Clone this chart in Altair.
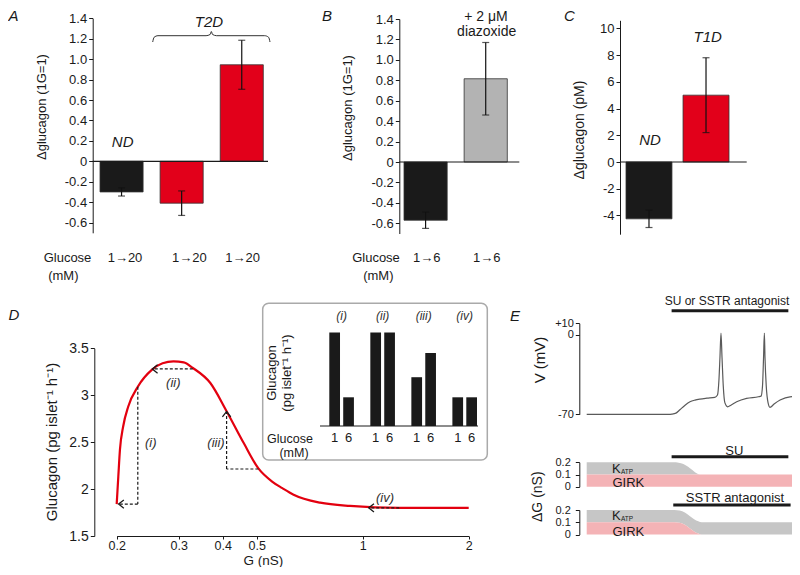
import altair as alt
import pandas as pd

W, H = 784, 559
M = 8


def px(v):
    return v - M


FONT = "Liberation Sans"
INK = "#1a1a1a"
RED = "#e2001a"
GREY_BAR = "#b3b3b3"
TRACE = "#5a5a5a"
KATP_C = "#c6c6c6"
GIRK_C = "#f4b3b6"

# ---------------- data ----------------
# Panel A
a_cats = ["ND", "T2D a", "T2D b"]
a_group = ["ND", "T2D", "T2D"]
a_vals = [-0.30, -0.41, 0.945]
a_errs = [0.04, 0.12, 0.24]
a_ticks = [-0.6, -0.4, -0.2, 0, 0.2, 0.4, 0.6, 0.8, 1.0, 1.2, 1.4]
a_glucose = ["1→20", "1→20", "1→20"]

# Panel B
b_cats = ["control", "diazoxide"]
b_group = ["ctrl", "diazoxide"]
b_vals = [-0.57, 0.815]
b_errs = [0.08, 0.355]
b_ticks = [-0.6, -0.4, -0.2, 0, 0.2, 0.4, 0.6, 0.8, 1.0, 1.2, 1.4]
b_glucose = ["1→6", "1→6"]

# Panel C
c_cats = ["ND", "T1D"]
c_group = ["ND", "T1D"]
c_vals = [-4.25, 5.0]
c_errs = [0.65, 2.8]
c_ticks = [-4, -2, 0, 2, 4, 6, 8, 10]

# Panel D: model curve (G in nS, glucagon pg/islet/h)
d_g = [0.2000, 0.2010, 0.2021, 0.2043, 0.2087, 0.2157, 0.2296, 0.2516, 0.2700,
       0.2899, 0.3100, 0.3292, 0.3690, 0.4104, 0.4591, 0.5053, 0.5527, 0.5909,
       0.636, 0.757, 0.92, 1.27, 1.60, 2.0]
d_glu = [1.84, 1.98, 2.13, 2.42, 2.67, 2.88, 3.09, 3.27, 3.34,
         3.36, 3.35, 3.29, 3.13, 2.83, 2.49, 2.22, 2.08, 2.01,
         1.94, 1.855, 1.82, 1.80, 1.80, 1.80]
d_xticks = [0.2, 0.3, 0.4, 0.5, 1, 2]
d_yticks = [1.5, 2, 2.5, 3, 3.5]
# dashed guides (x, y) -> (x2, y2)
seg_x = [0.2296, 0.2296, 0.329, 0.5053, 0.4104, 1.27]
seg_y = [3.09, 1.84, 3.28, 2.214, 2.214, 1.80]
seg_x2 = [0.2296, 0.2025, 0.2525, 0.4104, 0.4104, 1.04]
seg_y2 = [1.84, 1.84, 3.28, 2.214, 2.825, 1.80]
arrow_x = [0.2025, 0.2525, 0.4104, 1.04]
arrow_y = [1.84, 3.28, 2.825, 1.80]
arrow_dir = ["left", "left", "up", "left"]

# Panel D inset
ins_groups = ["(i)", "(ii)", "(iii)", "(iv)"]
ins_glc = ["1", "6"]
ins_at1 = [3.28, 3.28, 2.19, 1.70]
ins_at6 = [1.70, 3.28, 2.78, 1.70]
ins_ticks = [1, 2, 3]

# Panel E: membrane potential trace
e_t = [0, 39.5, 41.3, 43.2, 45.1, 47.6, 50.0, 52.4, 54.8, 58.2, 62.0, 63.3, 64.0,
       64.5, 65.0, 65.5, 66.1, 66.9, 68.2, 69.8, 72.6, 77.4, 83.1, 84.4, 85.1,
       85.6, 86.0, 86.3, 86.9, 87.8, 88.7, 90.7, 93.6, 98.4, 100]
e_v = [-70, -70, -69.8, -69, -66, -62, -59, -57.5, -56.6, -55.8, -55.1, -53, -40,
       -20, 1.4, -20, -45, -60, -63.4, -62, -59, -56, -54.6, -54, -45,
       -20, 1.4, -20, -45, -60, -63.9, -61, -57.5, -54.6, -54.5]
v_ticks = [-70, 0, 10]
# conductances (nS)
su_t = [0, 41.9, 44.5, 46.8, 48.5, 50.0, 51.3, 52.4, 53.6, 54.8, 100]
su_katp = [0.1, 0.1, 0.097, 0.086, 0.070, 0.051, 0.034, 0.018, 0.007, 0.0, 0.0]
su_girk = [0.1, 0.1, 0.1, 0.1, 0.1, 0.1, 0.1, 0.1, 0.1, 0.1, 0.1]
ss_t = [0, 42.5, 45.0, 47.5, 50.0, 52.0, 54.0, 55.7, 100]
ss_katp = [0.1, 0.1, 0.1, 0.1, 0.1, 0.1, 0.1, 0.1, 0.1]
ss_girk = [0.1, 0.1, 0.095, 0.080, 0.050, 0.025, 0.008, 0.0, 0.0]
g_ticks = [0, 0.1, 0.2]
treat_start = [41.1, 41.1, 41.9]
treat_end = [97.6, 97.6, 98.7]

# brace shape above T2D bars (normalised)
brace_x = [0, 0.012, 0.045, 0.455, 0.49, 0.5, 0.51, 0.545, 0.955, 0.988, 1]
brace_y = [0, 0.45, 0.6, 0.6, 0.72, 1.0, 0.72, 0.6, 0.6, 0.45, 0]

COLOR = alt.Scale(domain=["ND", "T2D", "T1D", "ctrl", "diazoxide"],
                  range=[INK, RED, RED, INK, GREY_BAR])

layers = []


def T(s, x, y, size=13, italic=False, angle=0, align="center", color=INK, baseline="middle"):
    return alt.Chart(pd.DataFrame({"s": [s]})).mark_text(
        font=FONT, fontSize=size, fontStyle="italic" if italic else "normal",
        angle=angle, align=align, baseline=baseline, color=color
    ).encode(x=alt.value(px(x)), y=alt.value(px(y)), text="s:N")


def left_axis(axis_x, values, expr, size=13, tick=4, pad=2):
    return alt.Axis(orient="left", offset=-px(axis_x), values=values, labelExpr=expr,
                    title=None, grid=False, tickSize=tick, labelPadding=pad,
                    labelFontSize=size, labelFont=FONT, labelColor=INK,
                    domainColor=INK, tickColor=INK, domainWidth=1, tickWidth=1,
                    labelOverlap=False, labelFlush=False)


DEC = "datum.value == 0 ? '0' : replace(format(datum.value, '.1f'), '\u2212', '-')"
INT = "replace(format(datum.value, 'd'), '\u2212', '-')"


def bar_panel(cats, groups, vals, errs, xr, pad, ydom, yr, axis_x, ticks, expr, zero_end):
    df = pd.DataFrame({"cat": cats, "grp": groups, "val": vals, "err": errs})
    df["lo"] = df["val"] - df["err"]
    df["hi"] = df["val"] + df["err"]
    df["zero"] = 0.0
    xs = alt.Scale(type="band", domain=cats, range=[px(xr[0]), px(xr[1])],
                   paddingInner=pad, paddingOuter=0)
    ys = alt.Scale(domain=ydom, range=[px(yr[0]), px(yr[1])], nice=False, zero=False)
    base = alt.Chart(df)
    X = alt.X("cat:N", scale=xs, axis=None)
    out = []
    out.append(base.mark_bar(stroke="#333333", strokeWidth=0.8).encode(
        x=X, y=alt.Y("val:Q", scale=ys, axis=left_axis(axis_x, ticks, expr)),
        y2="zero:Q", color=alt.Color("grp:N", scale=COLOR, legend=None)))
    out.append(base.mark_rule(color="#111111", strokeWidth=1.2).encode(
        x=X, y=alt.Y("lo:Q", scale=ys, axis=None), y2="hi:Q"))
    for c in ["lo", "hi"]:
        out.append(base.mark_tick(color="#111111", size=7, thickness=1.2).encode(
            x=X, y=alt.Y(c + ":Q", scale=ys, axis=None)))
    out.append(alt.Chart(df.head(1)).mark_rule(color=INK, strokeWidth=1.2).encode(
        y=alt.Y("zero:Q", scale=ys, axis=None),
        x=alt.value(px(axis_x)), x2=alt.value(px(zero_end))))
    return out


# ---------- Panel A ----------
layers += bar_panel(a_cats, a_group, a_vals, a_errs, (100, 263.3), 0.283,
                    [-0.7, 1.4], (232.8, 18.3), 92.7, a_ticks, DEC, 268)
brace = pd.DataFrame({"bx": brace_x, "by": brace_y, "o": list(range(len(brace_x)))})
layers.append(alt.Chart(brace).mark_line(color="#333333", strokeWidth=1, interpolate="monotone").encode(
    x=alt.X("bx:Q", scale=alt.Scale(domain=[0, 1], range=[px(152.7), px(270)]), axis=None),
    y=alt.Y("by:Q", scale=alt.Scale(domain=[0, 1], range=[px(42), px(31.5)]), axis=None),
    order="o:Q"))
layers += [
    T("A", 8.5, 16, 15, italic=True, align="left"),
    T("Δglucagon (1G=1)", 42, 107, 13, angle=270),
    T("ND", 122.7, 141.7, 15, italic=True),
    T("T2D", 209, 22, 15, italic=True),
    T("Glucose", 67.5, 258, 13),
    T("(mM)", 63.3, 276, 13),
    T(a_glucose[0], 125, 258, 13),
    T(a_glucose[1], 189.3, 258, 13),
    T(a_glucose[2], 242.7, 258, 13),
]

# ---------- Panel B ----------
layers += bar_panel(b_cats, b_group, b_vals, b_errs, (404, 507.3), 0.282,
                    [-0.7, 1.4], (233.5, 19), 399.3, b_ticks, DEC, 519.3)
layers += [
    T("B", 327, 16, 15, italic=True),
    T("Δglucagon (1G=1)", 348.3, 108, 13, angle=270),
    T("+ 2 μM", 486, 16.5, 14),
    T("diazoxide", 486.7, 32, 14),
    T("Glucose", 376, 258, 13),
    T("(mM)", 378.3, 276, 13),
    T(b_glucose[0], 426.7, 258, 13),
    T(b_glucose[1], 486.7, 258, 13),
]

# ---------- Panel C ----------
layers += bar_panel(c_cats, c_group, c_vals, c_errs, (626, 729), 0.194,
                    [-5.4, 10.6], (234.2, 20.3), 620, c_ticks, INT, 746.7)
layers += [
    T("C", 569.5, 16, 15, italic=True),
    T("Δglucagon (pM)", 580, 130, 14, angle=270),
    T("ND", 650, 140, 15, italic=True),
    T("T1D", 707.7, 37.3, 15, italic=True),
]

# ---------- Panel D ----------
dxs = alt.Scale(type="log", domain=[0.2, 2], range=[px(116.7), px(468.7)], nice=False)
dys = alt.Scale(domain=[1.5, 3.5], range=[px(536), px(348.3)], nice=False, zero=False)
curve = pd.DataFrame({"g": d_g, "glu": d_glu})
layers.append(alt.Chart(curve).mark_line(color="#e3000f", strokeWidth=2.2, interpolate="monotone").encode(
    x=alt.X("g:Q", scale=dxs, axis=alt.Axis(
        orient="bottom", offset=px(536) - H, values=d_xticks, format="~g", title=None,
        grid=False, tickSize=3, labelPadding=0, labelFontSize=12.5, labelFont=FONT,
        labelColor=INK, domainColor=INK, tickColor=INK, labelOverlap=False, labelFlush=False)),
    y=alt.Y("glu:Q", scale=dys, axis=left_axis(94.3, d_yticks, "format(datum.value, '~g')", size=14))))
segs = pd.DataFrame({"x": seg_x, "y": seg_y, "x2": seg_x2, "y2": seg_y2})
layers.append(alt.Chart(segs).mark_rule(color=INK, strokeWidth=1.2, strokeDash=[3, 2]).encode(
    x=alt.X("x:Q", scale=dxs, axis=None), x2="x2:Q",
    y=alt.Y("y:Q", scale=dys, axis=None), y2="y2:Q"))
arr = pd.DataFrame({"x": arrow_x, "y": arrow_y, "d": arrow_dir})
SHAPES = {"left": "M 1 -0.8 L 0 0 L 1 0.8", "up": "M -0.8 1 L 0 0 L 0.8 1"}
for d, path in SHAPES.items():
    layers.append(alt.Chart(arr).transform_filter(alt.datum.d == d).mark_point(
        shape=path, filled=False, stroke=INK, strokeWidth=1.3, size=110, opacity=1).encode(
        x=alt.X("x:Q", scale=dxs, axis=None), y=alt.Y("y:Q", scale=dys, axis=None)))
layers += [
    T("D", 8.5, 315, 15, italic=True, align="left"),
    T("Glucagon  (pg islet⁻¹ h⁻¹)", 51.7, 442, 15, angle=270),
    T("G (nS)", 263.3, 565, 13.5, baseline="alphabetic"),
    T("(i)", 150.7, 443.3, 13, italic=True, color="#333333"),
    T("(ii)", 173.3, 382.5, 13, italic=True, color="#333333"),
    T("(iii)", 216, 443.3, 13, italic=True, color="#333333"),
    T("(iv)", 385, 498.3, 13, italic=True, color="#333333"),
]

# inset frame
layers.append(alt.Chart(pd.DataFrame({"k": [0]})).mark_rect(
    fill="white", stroke="#aaaaaa", strokeWidth=1.5, cornerRadius=6).encode(
    x=alt.value(px(262.7)), x2=alt.value(px(487.3)),
    y=alt.value(px(303.3)), y2=alt.value(px(460))))
ins_rows = []
for i, g in enumerate(ins_groups):
    ins_rows.append({"grp": g, "glc": "1", "val": ins_at1[i], "base": 1.0})
    ins_rows.append({"grp": g, "glc": "6", "val": ins_at6[i], "base": 1.0})
ins = pd.DataFrame(ins_rows)
ixs = alt.Scale(type="band", domain=ins_groups, range=[px(329.3), px(477)],
                paddingInner=0.4, paddingOuter=0)
ios = alt.Scale(type="band", domain=ins_glc, paddingInner=0.23, paddingOuter=0)
iys = alt.Scale(domain=[1, 3.7], range=[px(426), px(315.3)], nice=False, zero=False)
layers.append(alt.Chart(ins).mark_bar(color=INK).encode(
    x=alt.X("grp:N", scale=ixs, axis=None),
    xOffset=alt.XOffset("glc:N", scale=ios),
    y=alt.Y("val:Q", scale=iys, axis=left_axis(
        320, ins_ticks, "datum.value == 1 ? '1.0' : format(datum.value, 'd')", size=12.5, tick=4, pad=2)),
    y2="base:Q"))
layers.append(alt.Chart(ins.head(1)).mark_rule(color=INK, strokeWidth=1).encode(
    y=alt.Y("base:Q", scale=iys, axis=None), x=alt.value(px(320)), x2=alt.value(px(478))))
layers.append(alt.Chart(ins).mark_text(font=FONT, fontSize=13, color=INK, baseline="middle").encode(
    x=alt.X("grp:N", scale=ixs, axis=None),
    xOffset=alt.XOffset("glc:N", scale=ios),
    y=alt.value(px(437.5)), text="glc:N"))
layers.append(alt.Chart(pd.DataFrame({"grp": ins_groups})).mark_text(
    font=FONT, fontSize=12, fontStyle="italic", color="#333333", baseline="middle").encode(
    x=alt.X("grp:N", scale=ixs, axis=None), y=alt.value(px(315.5)), text="grp:N"))
layers += [
    T("Glucagon", 271.7, 373, 13, angle=270),
    T("(pg islet⁻¹ h⁻¹)", 286.7, 373, 13, angle=270),
    T("Glucose", 290, 439, 12.5),
    T("(mM)", 294, 453, 12.5),
]

# ---------- Panel E ----------
ets = alt.Scale(domain=[0, 100], range=[px(586.7), px(793.3)], nice=False, zero=False)
evs = alt.Scale(domain=[-70, 10], range=[px(414.3), px(323.3)], nice=False, zero=False)
trace = pd.DataFrame({"t": e_t, "v": e_v})
layers.append(alt.Chart(trace).mark_line(color=TRACE, strokeWidth=1.2, interpolate="monotone").encode(
    x=alt.X("t:Q", scale=ets, axis=None),
    y=alt.Y("v:Q", scale=evs, axis=left_axis(
        579.3, v_ticks, "datum.value == 10 ? '+10' : (datum.value == 0 ? '0' : '-70')", size=11, tick=4, pad=2))))

GEXPR = "datum.value == 0 ? '0' : format(datum.value, '.1f')"


def cond_panel(t, katp, girk, yr):
    df = pd.DataFrame({"t": t, "katp": katp, "girk": girk})
    df["top"] = df["katp"] + df["girk"]
    df["zero"] = 0.0
    ys = alt.Scale(domain=[0, 0.2], range=[px(yr[0]), px(yr[1])], nice=False, zero=False)
    X = alt.X("t:Q", scale=ets, axis=None)
    return [
        alt.Chart(df).mark_area(color=KATP_C, interpolate="monotone").encode(
            x=X, y=alt.Y("top:Q", scale=ys, axis=left_axis(579.3, g_ticks, GEXPR, size=11, tick=4, pad=5)),
            y2="girk:Q"),
        alt.Chart(df).mark_area(color=GIRK_C, interpolate="monotone").encode(
            x=X, y=alt.Y("girk:Q", scale=ys, axis=None), y2="zero:Q"),
    ]


layers += cond_panel(su_t, su_katp, su_girk, (486.7, 462.3))
layers += cond_panel(ss_t, ss_katp, ss_girk, (534.5, 510))

treat = pd.DataFrame({"s": treat_start, "e": treat_end, "row": [0, 1, 2]})
for row, ypix in zip([0, 1, 2], [310.7, 456.7, 505]):
    layers.append(alt.Chart(treat).transform_filter(alt.datum.row == row).mark_rule(
        color=INK, strokeWidth=3).encode(
        x=alt.X("s:Q", scale=ets, axis=None), x2="e:Q", y=alt.value(px(ypix))))

layers += [
    T("E", 515, 316, 15, italic=True),
    T("SU or SSTR antagonist", 727, 300.7, 12),
    T("V (mV)", 540, 360, 15, angle=270),
    T("SU", 734.3, 450.5, 13),
    T("SSTR antagonist", 735, 498, 13),
    T("ΔG (nS)", 538.3, 496.7, 14, angle=270),
    T("K", 612, 468.5, 13, align="left"),
    T("ATP", 621, 471.5, 6.5, align="left"),
    T("GIRK", 628.3, 483, 13),
    T("K", 612, 516, 13, align="left"),
    T("ATP", 621, 519, 6.5, align="left"),
    T("GIRK", 628.3, 532, 13),
]

chart = alt.layer(*layers).resolve_scale(
    x="independent", y="independent", xOffset="independent"
).resolve_axis(x="independent", y="independent").properties(
    width=W, height=H, padding=0, autosize=alt.AutoSizeParams(type="none")
).configure_view(stroke=None)

chart.save("out.html", embed_options={"renderer": "svg", "actions": False})
